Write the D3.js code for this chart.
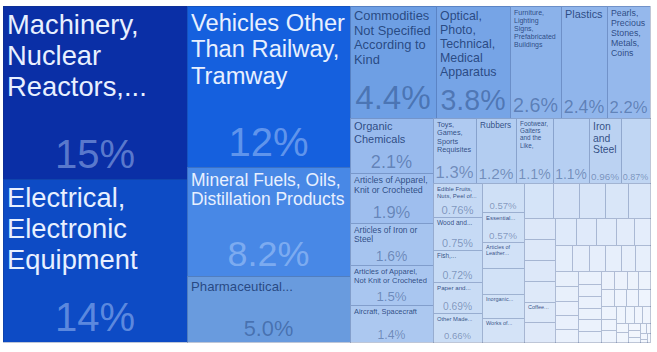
<!DOCTYPE html>
<html>
<head>
<meta charset="utf-8">
<script src="https://cdn.jsdelivr.net/npm/d3@7"></script>
<style>
  body { margin: 0; background: #fff; }
  svg { display: block; }
  text { font-family: "Liberation Sans", Arial, sans-serif; }
</style>
</head>
<body>
<div id="viz"></div>
<script>
// names as printed on the chart ("" where the cell carries no readable name)
const names = [
  "Machinery, Nuclear Reactors,...",
  "Electrical, Electronic Equipment",
  "Vehicles Other Than Railway, Tramway",
  "Mineral Fuels, Oils, Distillation Products",
  "Pharmaceutical...",
  "Commodities Not Specified According to Kind",
  "Optical, Photo, Technical, Medical Apparatus",
  "Furniture, Lighting Signs, Prefabricated Buildings",
  "Plastics",
  "Pearls, Precious Stones, Metals, Coins",
  "Organic Chemicals",
  "Articles of Apparel, Knit or Crocheted",
  "Articles of Iron or Steel",
  "Articles of Apparel, Not Knit or Crocheted",
  "Aircraft, Spacecraft",
  "Toys, Games, Sports Requisites",
  "Rubbers",
  "Footwear, Gaiters and the Like,",
  "",
  "Iron and Steel",
  "",
  "Edible Fruits, Nuts, Peel of...",
  "Wood and...",
  "Fish,...",
  "Paper and...",
  "Other Made...",
  "",
  "Essential...",
  "Articles of Leather...",
  "",
  "Inorganic...",
  "Works of...",
  "", "", "", "", "", "",
  "", "", "", "Coffee...", "Fertilizers", "",
  "", "", "", "", "",
  "", "", "", "", "", "", "", "", "", "",
  "", "", "", "", "", "", "", "", "", "",
  "", "", "", "", "", "", "", "", "", "",
  "", "", "", "", "", "", "", "", "", "", ""
];

// share of total exports, % (small cells estimated from their size)
const values = [
  14.6, 13.8, 12.1, 8.2, 5.0,
  4.4, 3.8, 2.6, 2.4, 2.2,
  2.1, 1.9, 1.6, 1.5, 1.4,
  1.3, 1.2, 1.1, 1.1, 0.96, 0.87,
  0.76, 0.75, 0.72, 0.69, 0.66,
  0.57, 0.57, 0.52, 0.50, 0.48, 0.46,
  0.45, 0.42, 0.40, 0.37, 0.35, 0.30,
  0.30, 0.30, 0.29, 0.29, 0.28, 0.27,
  0.26, 0.25, 0.23, 0.21, 0.20,
  0.19, 0.19, 0.18, 0.17, 0.17, 0.16, 0.16, 0.15, 0.15, 0.14,
  0.14, 0.13, 0.13, 0.12, 0.12, 0.12, 0.11, 0.11, 0.10, 0.10,
  0.10, 0.09, 0.09, 0.09, 0.09, 0.08, 0.08, 0.07, 0.07, 0.06,
  0.06, 0.05, 0.05, 0.04, 0.04, 0.03, 0.03, 0.02, 0.02, 0.01, 0.01
];

const width = 657, height = 352;
const margin = { top: 6, right: 7, bottom: 10, left: 3 };
const innerW = width - margin.left - margin.right,
  innerH = height - margin.top - margin.bottom;

// colour by share, dark blue for the largest down to almost white
const color = d3.scaleLinear()
  .domain([0.01, 0.3, 0.6, 1.0, 1.5, 2.2, 3.0, 4.4, 5.0, 8.2, 12, 13.8, 14.6])
  .range(["#f4f8fe", "#dde8f9", "#cddff6", "#b9d1f2", "#a9c6f0", "#95b8ec", "#80abe8",
          "#6e9fe4", "#699bde", "#4888e6", "#1561df", "#0d4bc5", "#0a2fa6"])
  .clamp(true);

const fmt = d3.format(".2r");

const root = d3.hierarchy({
  children: names.map((n, i) => ({ name: n, value: values[i] }))
})
  .sum((d) => d.value || 0)
  .sort((a, b) => b.value - a.value);

d3.treemap()
  .tile(d3.treemapSquarify)
  .size([innerW, innerH])
  .round(true)(root);

const total = root.value;

const svg = d3.select("#viz")
  .append("svg")
  .attr("width", width)
  .attr("height", height);

const g = svg.append("g")
  .attr("transform", "translate(" + margin.left + "," + margin.top + ")");

const cell = g.selectAll("g")
  .data(root.leaves())
  .join("g")
  .attr("transform", (d) => `translate(${d.x0},${d.y0})`);

cell.append("rect")
  .attr("width", (d) => Math.max(0, d.x1 - d.x0))
  .attr("height", (d) => Math.max(0, d.y1 - d.y0))
  .attr("fill", (d) => color(d.value))
  .attr("stroke", "rgba(20,50,110,0.28)")
  .attr("stroke-width", 1)
  .attr("shape-rendering", "crispEdges");

// text measuring
const ctx = document.createElement("canvas").getContext("2d");
function textWidth(str, size) {
  ctx.font = size + 'px "Liberation Sans", Arial, sans-serif';
  return ctx.measureText(str).width;
}
function wrap(words, size, maxW) {
  const lines = [];
  let line = "";
  for (const w of words) {
    if (textWidth(w, size) > maxW) return null;
    const t = line ? line + " " + w : w;
    if (textWidth(t, size) <= maxW) line = t;
    else { lines.push(line); line = w; }
  }
  if (line) lines.push(line);
  return lines;
}
function fitTitle(name, w, h, labelH, minSize) {
  const pad = 4;
  const words = name.split(" ");
  const em = textWidth(name, 1);
  const cap = Math.min(27.5, Math.max(5.5, 0.2 * h));
  const fits = (s) => {
    const lines = wrap(words, s, w - 2 * pad);
    return lines && lines.length * s * 1.13 + 2 <= labelH ? lines : null;
  };
  let s = Math.min(cap, Math.sqrt(0.55 * w * labelH / (em * 1.2)));
  for (; s >= minSize; s -= 0.25) {
    const lines = fits(s);
    if (lines) {
      // grow while the same number of lines still fits
      let best = { s, lines };
      for (let t = s + 0.25; t <= cap; t += 0.25) {
        const l2 = fits(t);
        if (!l2 || l2.length !== lines.length) break;
        best = { s: t, lines: l2 };
      }
      return best;
    }
  }
  return null;
}

cell.each(function (d) {
  const w = d.x1 - d.x0, h = d.y1 - d.y0;
  const sel = d3.select(this);
  const bg = d3.lab(color(d.value));
  const dark = bg.l < 60;
  const share = fmt((d.value / total) * 100) + "%";

  let ss = Math.min(40, (0.88 * w) / textWidth(share, 1), 0.33 * h);
  let showShare = ss >= 6.5 && w * h >= 1180;
  let title = null;
  if (d.data.name) {
    title = fitTitle(d.data.name, w, h, h - (showShare ? ss * 1.3 : 0) - 2, 5.5);
    if (!title && showShare) {
      title = fitTitle(d.data.name, w, h, h - 2, 4.5);
      if (title) showShare = false;
    }
  }

  if (title) {
    const t = sel.append("text")
      .attr("fill", dark ? "#e8f0ff" : "#1f3f78")
      .attr("fill-opacity", dark ? 1 : 0.9)
      .attr("font-size", title.s);
    title.lines.forEach((ln, i) => {
      t.append("tspan")
        .attr("x", 4)
        .attr("y", 2 + title.s * 0.95 + i * title.s * 1.13)
        .text(ln);
    });
  }

  if (showShare) {
    sel.append("text")
      .attr("x", w / 2)
      .attr("y", h - ss * 0.28)
      .attr("text-anchor", "middle")
      .attr("font-size", ss)
      .attr("fill", dark ? "#c0d8ff" : "#1f3f78")
      .attr("fill-opacity", 0.45)
      .text(share);
  }
});
</script>
</body>
</html>
